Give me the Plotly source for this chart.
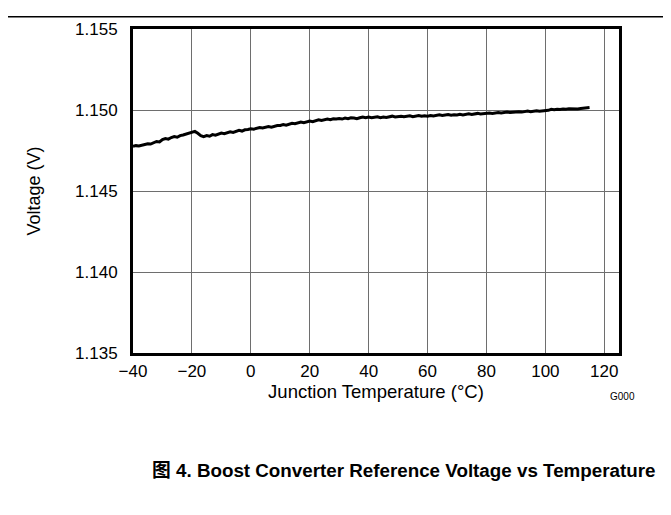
import plotly.graph_objects as go

# Junction temperature samples (°C)
temperature_c = list(range(-40, 116))

# Boost converter reference voltage (V)
voltage_v = [
    1.14776, 1.14780, 1.14778, 1.14784, 1.14786, 1.14792, 1.14790, 1.14798, 1.14806, 1.14803,
    1.14818, 1.14824, 1.14820, 1.14830, 1.14836, 1.14832, 1.14842, 1.14846, 1.14852, 1.14858,
    1.14866, 1.14868, 1.14856, 1.14842, 1.14836, 1.14842, 1.14838, 1.14848, 1.14845, 1.14852,
    1.14858, 1.14854, 1.14862, 1.14866, 1.14862, 1.14870, 1.14874, 1.14870, 1.14878, 1.14880,
    1.14884, 1.14882, 1.14888, 1.14892, 1.14889, 1.14894, 1.14898, 1.14894, 1.14900, 1.14904,
    1.14905, 1.14910, 1.14906, 1.14914, 1.14918, 1.14915, 1.14922, 1.14926, 1.14922, 1.14928,
    1.14932, 1.14928, 1.14936, 1.14940, 1.14935, 1.14940, 1.14944, 1.14940, 1.14946, 1.14944,
    1.14948, 1.14944, 1.14950, 1.14946, 1.14952, 1.14950, 1.14946, 1.14952, 1.14956, 1.14952,
    1.14956, 1.14952, 1.14955, 1.14958, 1.14953, 1.14957, 1.14954, 1.14958, 1.14962, 1.14957,
    1.14958, 1.14962, 1.14958, 1.14961, 1.14964, 1.14959, 1.14962, 1.14966, 1.14961, 1.14964,
    1.14962, 1.14966, 1.14963, 1.14966, 1.14970, 1.14966, 1.14968, 1.14972, 1.14968, 1.14971,
    1.14969, 1.14973, 1.14970, 1.14974, 1.14977, 1.14973, 1.14976, 1.14979, 1.14975, 1.14978,
    1.14977, 1.14981, 1.14979, 1.14982, 1.14985, 1.14982, 1.14984, 1.14987, 1.14984, 1.14987,
    1.14986, 1.14989, 1.14987, 1.14990, 1.14993, 1.14990, 1.14992, 1.14995, 1.14992, 1.14994,
    1.14995, 1.14998, 1.15004, 1.15002, 1.15005, 1.15003, 1.15006, 1.15004, 1.15007, 1.15006,
    1.15008, 1.15006, 1.15009, 1.15011, 1.15010, 1.15015,
]

x_ticks = [-40, -20, 0, 20, 40, 60, 80, 100, 120]
y_ticks = [1.135, 1.140, 1.145, 1.150, 1.155]
y_tick_text = ["1.135", "1.140", "1.145", "1.150", "1.155"]

x_title = "Junction Temperature (°C)"
y_title = "Voltage (V)"
caption = "图 4. Boost Converter Reference Voltage vs Temperature"
code_label = "G000"

W, H = 671, 515
ML, MR, MT, MB = 125, 60, 15, 170
PW = W - ML - MR
PH = H - MT - MB


def px_x(x):
    return (x - ML) / PW


def px_y(y):
    return (MT + PH - y) / PH


FONT = "Liberation Sans, Arial, Noto Sans CJK SC, sans-serif"

fig = go.Figure()
fig.add_trace(go.Scatter(
    x=temperature_c, y=voltage_v, mode="lines",
    line=dict(color="black", width=3), showlegend=False, hoverinfo="skip",
))

fig.update_layout(
    width=W, height=H,
    margin=dict(l=ML, r=MR, t=MT, b=MB, pad=0),
    paper_bgcolor="white", plot_bgcolor="white",
    font=dict(family=FONT, size=17, color="black"),
    xaxis=dict(
        range=[-40, 125], tickvals=x_ticks, showgrid=True,
        gridcolor="#6e6e6e", gridwidth=1, zeroline=False,
        showline=True, linecolor="black", linewidth=3, mirror=True,
        ticks="outside", ticklen=1, tickcolor="rgba(0,0,0,0)",
        tickfont=dict(size=17),
        title=dict(text=x_title, font=dict(size=18.5), standoff=5),
    ),
    yaxis=dict(
        range=[1.135, 1.155], tickvals=y_ticks, ticktext=y_tick_text,
        showgrid=True, gridcolor="#6e6e6e", gridwidth=1, zeroline=False,
        showline=True, linecolor="black", linewidth=3, mirror=True,
        ticks="outside", ticklen=9, tickcolor="rgba(0,0,0,0)",
        tickfont=dict(size=17),
        title=dict(text=y_title, font=dict(size=18), standoff=30),
    ),
)

# top horizontal rule across the whole page
fig.add_shape(type="line", xref="paper", yref="paper",
              x0=px_x(-20), x1=px_x(W + 20),
              y0=px_y(2.5), y1=px_y(2.5),
              line=dict(color="black", width=1.5))

fig.add_annotation(text=code_label, xref="paper", yref="paper",
                   x=px_x(614), y=px_y(389),
                   showarrow=False, font=dict(size=10),
                   xanchor="center", yanchor="middle")

fig.add_annotation(text="<b>" + caption + "</b>", xref="paper", yref="paper",
                   x=px_x(395), y=px_y(465),
                   showarrow=False, font=dict(size=18.8),
                   xanchor="center", yanchor="middle")

fig.write_html("out.html")
